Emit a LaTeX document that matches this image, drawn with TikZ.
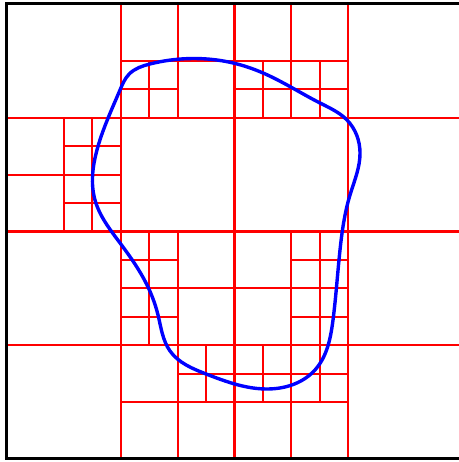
\documentclass[tikz,border=0pt]{standalone}
\usepackage{tikz}
\usetikzlibrary{hobby}

\tikzset{
  cella/.style={red,line width=2.2pt},
  bordo/.style={black,line width=3pt},
  curva/.style={blue,line width=3.4pt}
}

\begin{document}
\begin{tikzpicture}[x=56.875pt,y=56.875pt]
\useasboundingbox (-0.123,-0.053) rectangle (7.947,8.070);
\clip (-0.123,-0.053) rectangle (7.947,8.070);
% livello 1 e 2: linee intere
\draw[cella] (0,2) -- (8,2) (0,4) -- (8,4) (0,6) -- (8,6);
\draw[cella] (2,0) -- (2,8) (4,0) -- (4,8) (6,0) -- (6,8);
% livello 3: blocchi 2x2 suddivisi
\draw[cella] (3,6) -- (3,8) (5,6) -- (5,8) (2,7) -- (6,7);
\draw[cella] (1,4) -- (1,6) (0,5) -- (2,5);
\draw[cella] (3,0) -- (3,4) (5,0) -- (5,4);
\draw[cella] (2,3) -- (6,3) (2,1) -- (6,1);
% livello 4: celle tagliate dalla curva
\foreach \cx/\cy in {2/6,4/6,5/6,1/5,1/4,2/3,2/2,3/1,4/1,5/3,5/2,5/1}
  \draw[cella] (\cx+0.5,\cy) -- (\cx+0.5,\cy+1) (\cx,\cy+0.5) -- (\cx+1,\cy+0.5);
% bordo del dominio
\draw[bordo] (0,0) rectangle (8,8);
% contorno chiuso
\draw[curva,use Hobby shortcut,closed=true]
  (2.150,6.770) .. (2.514,6.945) .. (3.200,7.040) .. (3.974,6.963)
  .. (4.501,6.787) .. (5.503,6.259) .. (5.978,5.960) .. (6.207,5.380)
  .. (6.031,4.642) .. (5.855,3.675) .. (5.732,2.444) .. (5.415,1.565)
  .. (4.607,1.231) .. (3.499,1.495) .. (2.866,1.899) .. (2.655,2.532)
  .. (2.479,3.024) .. (1.987,3.798) .. (1.547,4.554) .. (1.582,5.433)
  .. (1.987,6.488);
\end{tikzpicture}
\end{document}
